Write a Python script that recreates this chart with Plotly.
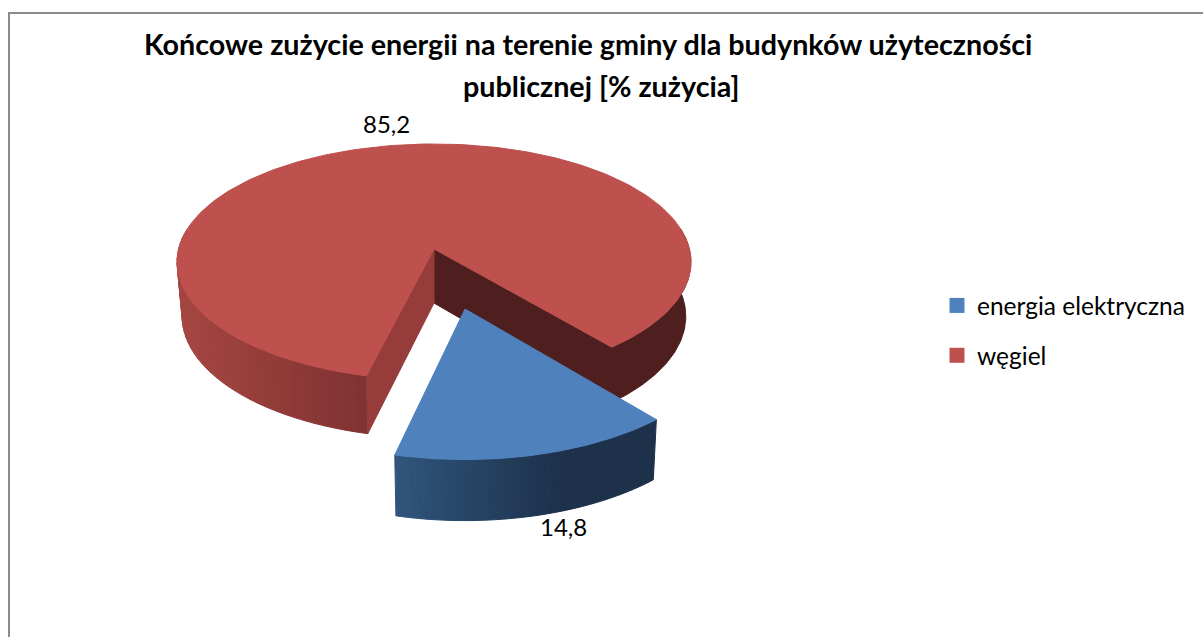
import math
import plotly.graph_objects as go

# ---- data ----
categories = ["energia elektryczna", "węgiel"]
values = [14.8, 85.2]
title_lines = ["Końcowe zużycie energii na terenie gminy dla budynków użyteczności",
               "publicznej [% zużycia]"]

# ---- styling ----
FONT = "Lato"
top_colors = ["#4F81BD", "#BE504D"]
START = 50.4   # first slice starts here (deg, clockwise on screen from 3 o'clock)
BLUE = dict(ax=465, ay=309, A=263, B=128, k=0.15, dy=58, sa=0.984, sb=1.02, rot=-0.5)
RED = dict(ax=434, ay=249, A=255.4, B=116.6, k=0.11, dy=54, sa=0.98, sb=1.03, rot=0)
BLUE_WALL = ((395, (0x30, 0x55, 0x7C)), (560, (0x1D, 0x31, 0x4B)), (660, (0x1D, 0x31, 0x4B)))
RED_WALL = ((177, (0xA6, 0x46, 0x42)), (367, (0x7F, 0x32, 0x31)))
RED_DARK = "#4F1F1F"
RED_INNER = "#963C3A"


def proj(g, deg, floor=False):
    t = math.radians(deg + g["rot"])
    c, s = math.cos(t), math.sin(t)
    w = 1 - g["k"] * s
    sa, sb, dy = (g["sa"], g["sb"], g["dy"]) if floor else (1, 1, 0)
    return g["ax"] + sa * g["A"] * c / w, g["ay"] + dy + sb * g["B"] * s / w


def apex(g, floor=False):
    return g["ax"], g["ay"] + (g["dy"] if floor else 0)


def lerp_color(stops, x):
    col = stops[0][1] if x <= stops[0][0] else stops[-1][1]
    for (x0, c0), (x1, c1) in zip(stops, stops[1:]):
        if x0 <= x <= x1:
            f = (x - x0) / (x1 - x0)
            col = tuple(round(a + (b - a) * f) for a, b in zip(c0, c1))
            break
    return "rgb(%d,%d,%d)" % tuple(col)


def poly(pts, color):
    xs = [p[0] for p in pts] + [pts[0][0]]
    ys = [p[1] for p in pts] + [pts[0][1]]
    return go.Scatter(x=xs, y=ys, mode="lines", fill="toself", fillcolor=color,
                      line=dict(color=color, width=1), hoverinfo="skip", showlegend=False)


def arc(g, a0, a1, floor=False, n=90):
    return [proj(g, a0 + (a1 - a0) * i / n, floor) for i in range(n + 1)]


def strips(g, a0, a1, stops, n=36):
    for i in range(n):
        b0 = a0 + (a1 - a0) * i / n
        b1 = a0 + (a1 - a0) * (i + 1) / n
        mid = proj(g, (b0 + b1) / 2)[0]
        fig.add_trace(poly([proj(g, b0), proj(g, b1), proj(g, b1, True), proj(g, b0, True)],
                           lerp_color(stops, mid)))


fig = go.Figure()

# slice angle ranges from the values
total = sum(values)
sweeps = [v / total * 360 for v in values]
blue_a0, blue_a1 = START, START + sweeps[0]
red_a0, red_a1 = blue_a1, blue_a1 + sweeps[1]

# --- red slice: back wall parts, near wall, then top
g = RED
fig.add_trace(poly(arc(g, 350, red_a1) + arc(g, red_a1, 350, True), RED_DARK))
fig.add_trace(poly([apex(g), proj(g, red_a1), proj(g, red_a1, True), apex(g, True)], RED_DARK))
strips(g, 190, red_a0, RED_WALL)
fig.add_trace(poly([apex(g), proj(g, red_a0), proj(g, red_a0, True), apex(g, True)], RED_INNER))
fig.add_trace(poly([apex(g)] + arc(g, red_a0, red_a1, n=240), top_colors[1]))

# --- blue slice: outer wall, then top
g = BLUE
strips(g, blue_a1, blue_a0, BLUE_WALL)
fig.add_trace(poly([apex(g)] + arc(g, blue_a0, blue_a1), top_colors[0]))

# legend entries
for name, col in zip(categories, top_colors):
    fig.add_trace(go.Scatter(x=[None], y=[None], mode="markers", name=name, legendgroup=name,
                             marker=dict(symbol="square", size=15, color=col)))

ann = [
    dict(x=588, y=44, text="<b>%s</b>" % title_lines[0], font=dict(size=28.7)),
    dict(x=601, y=86, text="<b>%s</b>" % title_lines[1], font=dict(size=28.7)),
    dict(x=386, y=123, text=f"{values[1]:.1f}".replace(".", ","), font=dict(size=24)),
    dict(x=563, y=526, text=f"{values[0]:.1f}".replace(".", ","), font=dict(size=24)),
]
for a in ann:
    a.update(xref="x", yref="y", showarrow=False, xanchor="center", yanchor="middle")
    a["font"].update(family=FONT, color="#000000")

fig.update_layout(
    width=1203, height=637, margin=dict(l=0, r=0, t=0, b=0),
    paper_bgcolor="white", plot_bgcolor="white",
    xaxis=dict(range=[0, 1203], visible=False, fixedrange=True),
    yaxis=dict(range=[637, 0], visible=False, fixedrange=True),
    annotations=ann,
    shapes=[dict(type="rect", xref="x", yref="y", x0=9, y0=13, x1=1260, y1=700,
                 line=dict(color="#8C8C8C", width=2))],
    legend=dict(x=937 / 1203, y=1 - 283 / 637, xanchor="left", yanchor="top",
                font=dict(family=FONT, size=24.5, color="#000000"),
                tracegroupgap=15, bgcolor="rgba(0,0,0,0)", traceorder="grouped"),
    showlegend=True,
)

fig.write_html(
    "out.html",
    config={"displayModeBar": False},
    post_script="document.body.style.margin='0';document.body.style.overflow='hidden';",
)
